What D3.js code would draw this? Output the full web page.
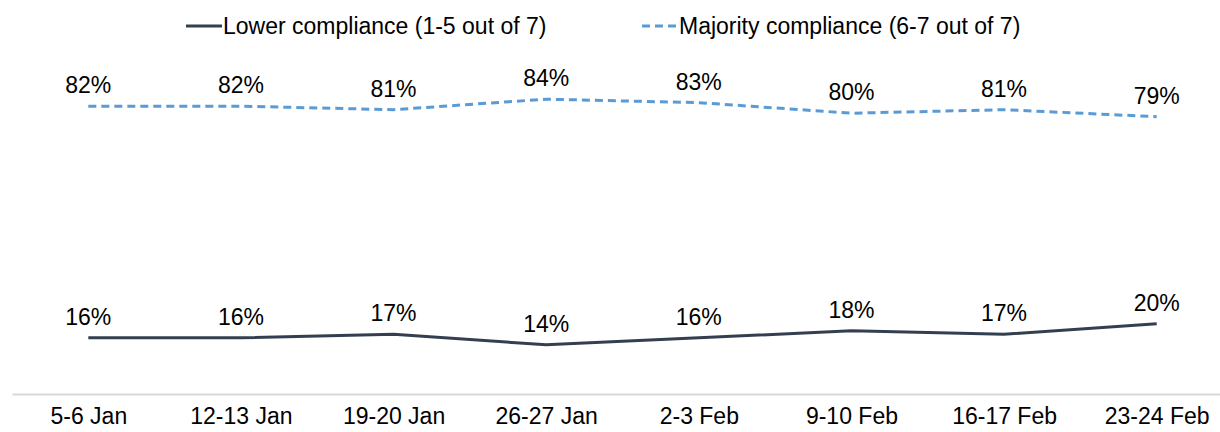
<!DOCTYPE html>
<html>
<head>
<meta charset="utf-8">
<script src="https://cdn.jsdelivr.net/npm/d3@7"></script>
<style>
  body { margin: 0; background: #fff; }
  svg { display: block; font-family: "Liberation Sans", Arial, sans-serif; }
</style>
</head>
<body>
<svg id="chart" width="1220" height="432"></svg>
<script>
const periods = ['5-6 Jan', '12-13 Jan', '19-20 Jan', '26-27 Jan', '2-3 Feb', '9-10 Feb', '16-17 Feb', '23-24 Feb']
const lower = [16, 16, 17, 14, 16, 18, 17, 20]
const majority = [82, 82, 81, 84, 83, 80, 81, 79]

const series = [
  { name: 'Lower compliance (1-5 out of 7)', values: lower, color: '#333f50', dash: null },
  { name: 'Majority compliance (6-7 out of 7)', values: majority, color: '#5b9bd5', dash: '8,5' }
]

const svg = d3.select('#chart')

const x = d3.scalePoint().domain(periods).range([12, 1233]).padding(0.5)
const y = d3.scaleLinear().domain([0, 100]).range([394, 43])

// x axis: light grey baseline, no ticks
const axis = svg.append('g')
  .attr('transform', 'translate(0,394)')
  .call(d3.axisBottom(x).tickSize(0).tickPadding(14))
axis.select('.domain').attr('stroke', '#d9d9d9').attr('stroke-width', 2)
axis.selectAll('text')
  .attr('font-size', 23)
  .attr('fill', '#000')
  .attr('font-family', '"Liberation Sans", Arial, sans-serif')

const line = d3.line()
  .x((d, i) => x(periods[i]))
  .y(d => y(d))

series.forEach(s => {
  svg.append('path')
    .datum(s.values)
    .attr('fill', 'none')
    .attr('stroke', s.color)
    .attr('stroke-width', 3)
    .attr('stroke-dasharray', s.dash)
    .attr('d', line)

  svg.append('g').selectAll('text')
    .data(s.values)
    .join('text')
    .attr('x', (d, i) => x(periods[i]))
    .attr('y', d => y(d) - 13)
    .attr('text-anchor', 'middle')
    .attr('font-size', 23)
    .attr('fill', '#000')
    .text(d => d + '%')
})

// legend
const legendPos = [186, 642]
const legend = svg.append('g').selectAll('g')
  .data(series)
  .join('g')
  .attr('transform', (d, i) => `translate(${legendPos[i]},26)`)

legend.append('line')
  .attr('x1', 0).attr('x2', 36)
  .attr('stroke', d => d.color)
  .attr('stroke-width', 3)
  .attr('stroke-dasharray', d => d.dash)

legend.append('text')
  .attr('x', 37)
  .attr('y', 8)
  .attr('font-size', 23)
  .attr('fill', '#000')
  .text(d => d.name)
</script>
</body>
</html>
